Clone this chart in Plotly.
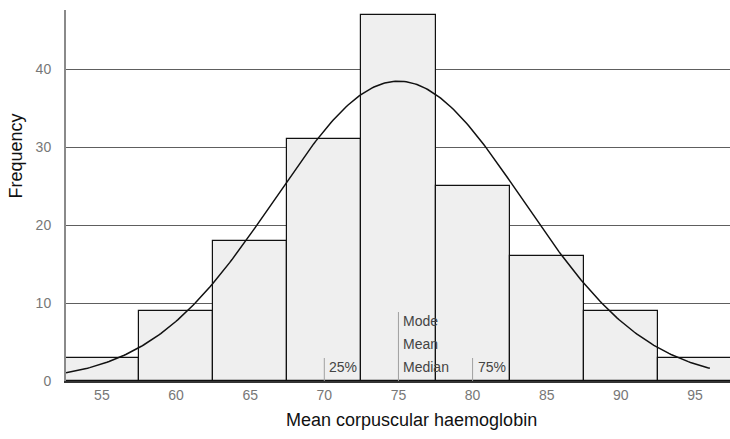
import numpy as np
import plotly.graph_objects as go

# Histogram of mean corpuscular haemoglobin (bin width 5)
bin_centers = [55, 60, 65, 70, 75, 80, 85, 90, 95]
frequencies = [3, 9, 18, 31, 47, 25, 16, 9, 3]
bin_width = 5

# Fitted normal curve parameters
fit_mean = 75.0
fit_sd = 8.35

# Summary statistic markers
quartile_labels = ["25%", "75%"]
quartile_values = [70.0, 80.0]
centre_labels = ["Mode", "Mean", "Median"]
centre_value = 75.0

n_total = sum(frequencies)
xs = np.linspace(52.58, 96.0, 300)
ys = n_total * bin_width / (fit_sd * np.sqrt(2 * np.pi)) * np.exp(-0.5 * ((xs - fit_mean) / fit_sd) ** 2)

font_family = "Liberation Sans, Arial, sans-serif"

fig = go.Figure()
fig.add_trace(go.Bar(
    x=bin_centers, y=frequencies, width=bin_width,
    marker=dict(color="#efefef", line=dict(color="#111111", width=1.2)),
    hoverinfo="x+y",
))

# Marker lines for quartiles and centre statistics
for qv in quartile_values:
    fig.add_trace(go.Scatter(x=[qv, qv], y=[0, 2.95], mode="lines",
                             line=dict(color="#a0a0a0", width=1), hoverinfo="skip"))
fig.add_trace(go.Scatter(x=[centre_value, centre_value], y=[0, 8.85], mode="lines",
                         line=dict(color="#a0a0a0", width=1), hoverinfo="skip"))

fig.add_trace(go.Scatter(x=xs, y=ys, mode="lines",
                         line=dict(color="#111111", width=1.5), hoverinfo="skip"))

ann_font = dict(family=font_family, size=14, color="#444444")
for lbl, qv in zip(quartile_labels, quartile_values):
    fig.add_annotation(x=qv, y=1.8, text=lbl, showarrow=False, xanchor="left",
                       xshift=3, font=ann_font)
for i, lbl in enumerate(reversed(centre_labels)):
    fig.add_annotation(x=centre_value, y=1.8 + i * 2.95, text=lbl, showarrow=False,
                       xanchor="left", xshift=3, font=ann_font)

# Axis titles
fig.add_annotation(text="Mean corpuscular haemoglobin", xref="paper", yref="paper",
                   x=0.521, y=-0.1, yanchor="middle", xanchor="center", yshift=-2,
                   showarrow=False, font=dict(family=font_family, size=18, color="#111111"))
fig.add_annotation(text="Frequency", xref="paper", yref="paper",
                   x=0, xshift=-50, y=0.605, textangle=-90, xanchor="center",
                   yanchor="middle", showarrow=False,
                   font=dict(family=font_family, size=18, color="#111111"))

fig.update_layout(
    width=730, height=439,
    margin=dict(l=66, r=0, t=10, b=58),
    plot_bgcolor="white", paper_bgcolor="white",
    showlegend=False,
    bargap=0,
    font=dict(family=font_family),
    xaxis=dict(
        range=[52.58, 97.36],
        tickvals=bin_centers,
        ticks="", showgrid=False, zeroline=False,
        showline=True, linecolor="#333333", linewidth=2,
        tickfont=dict(size=14, color="#777777"),
    ),
    yaxis=dict(
        range=[0, 47.6],
        tickvals=[0, 10, 20, 30, 40],
        ticks="", showgrid=True, gridcolor="#5e5e5e", gridwidth=1,
        zeroline=False,
        showline=True, linecolor="#8a8a8a", linewidth=2,
        tickfont=dict(size=14, color="#777777"),
        ticklabelstandoff=10,
    ),
)

fig.write_html("out.html")
